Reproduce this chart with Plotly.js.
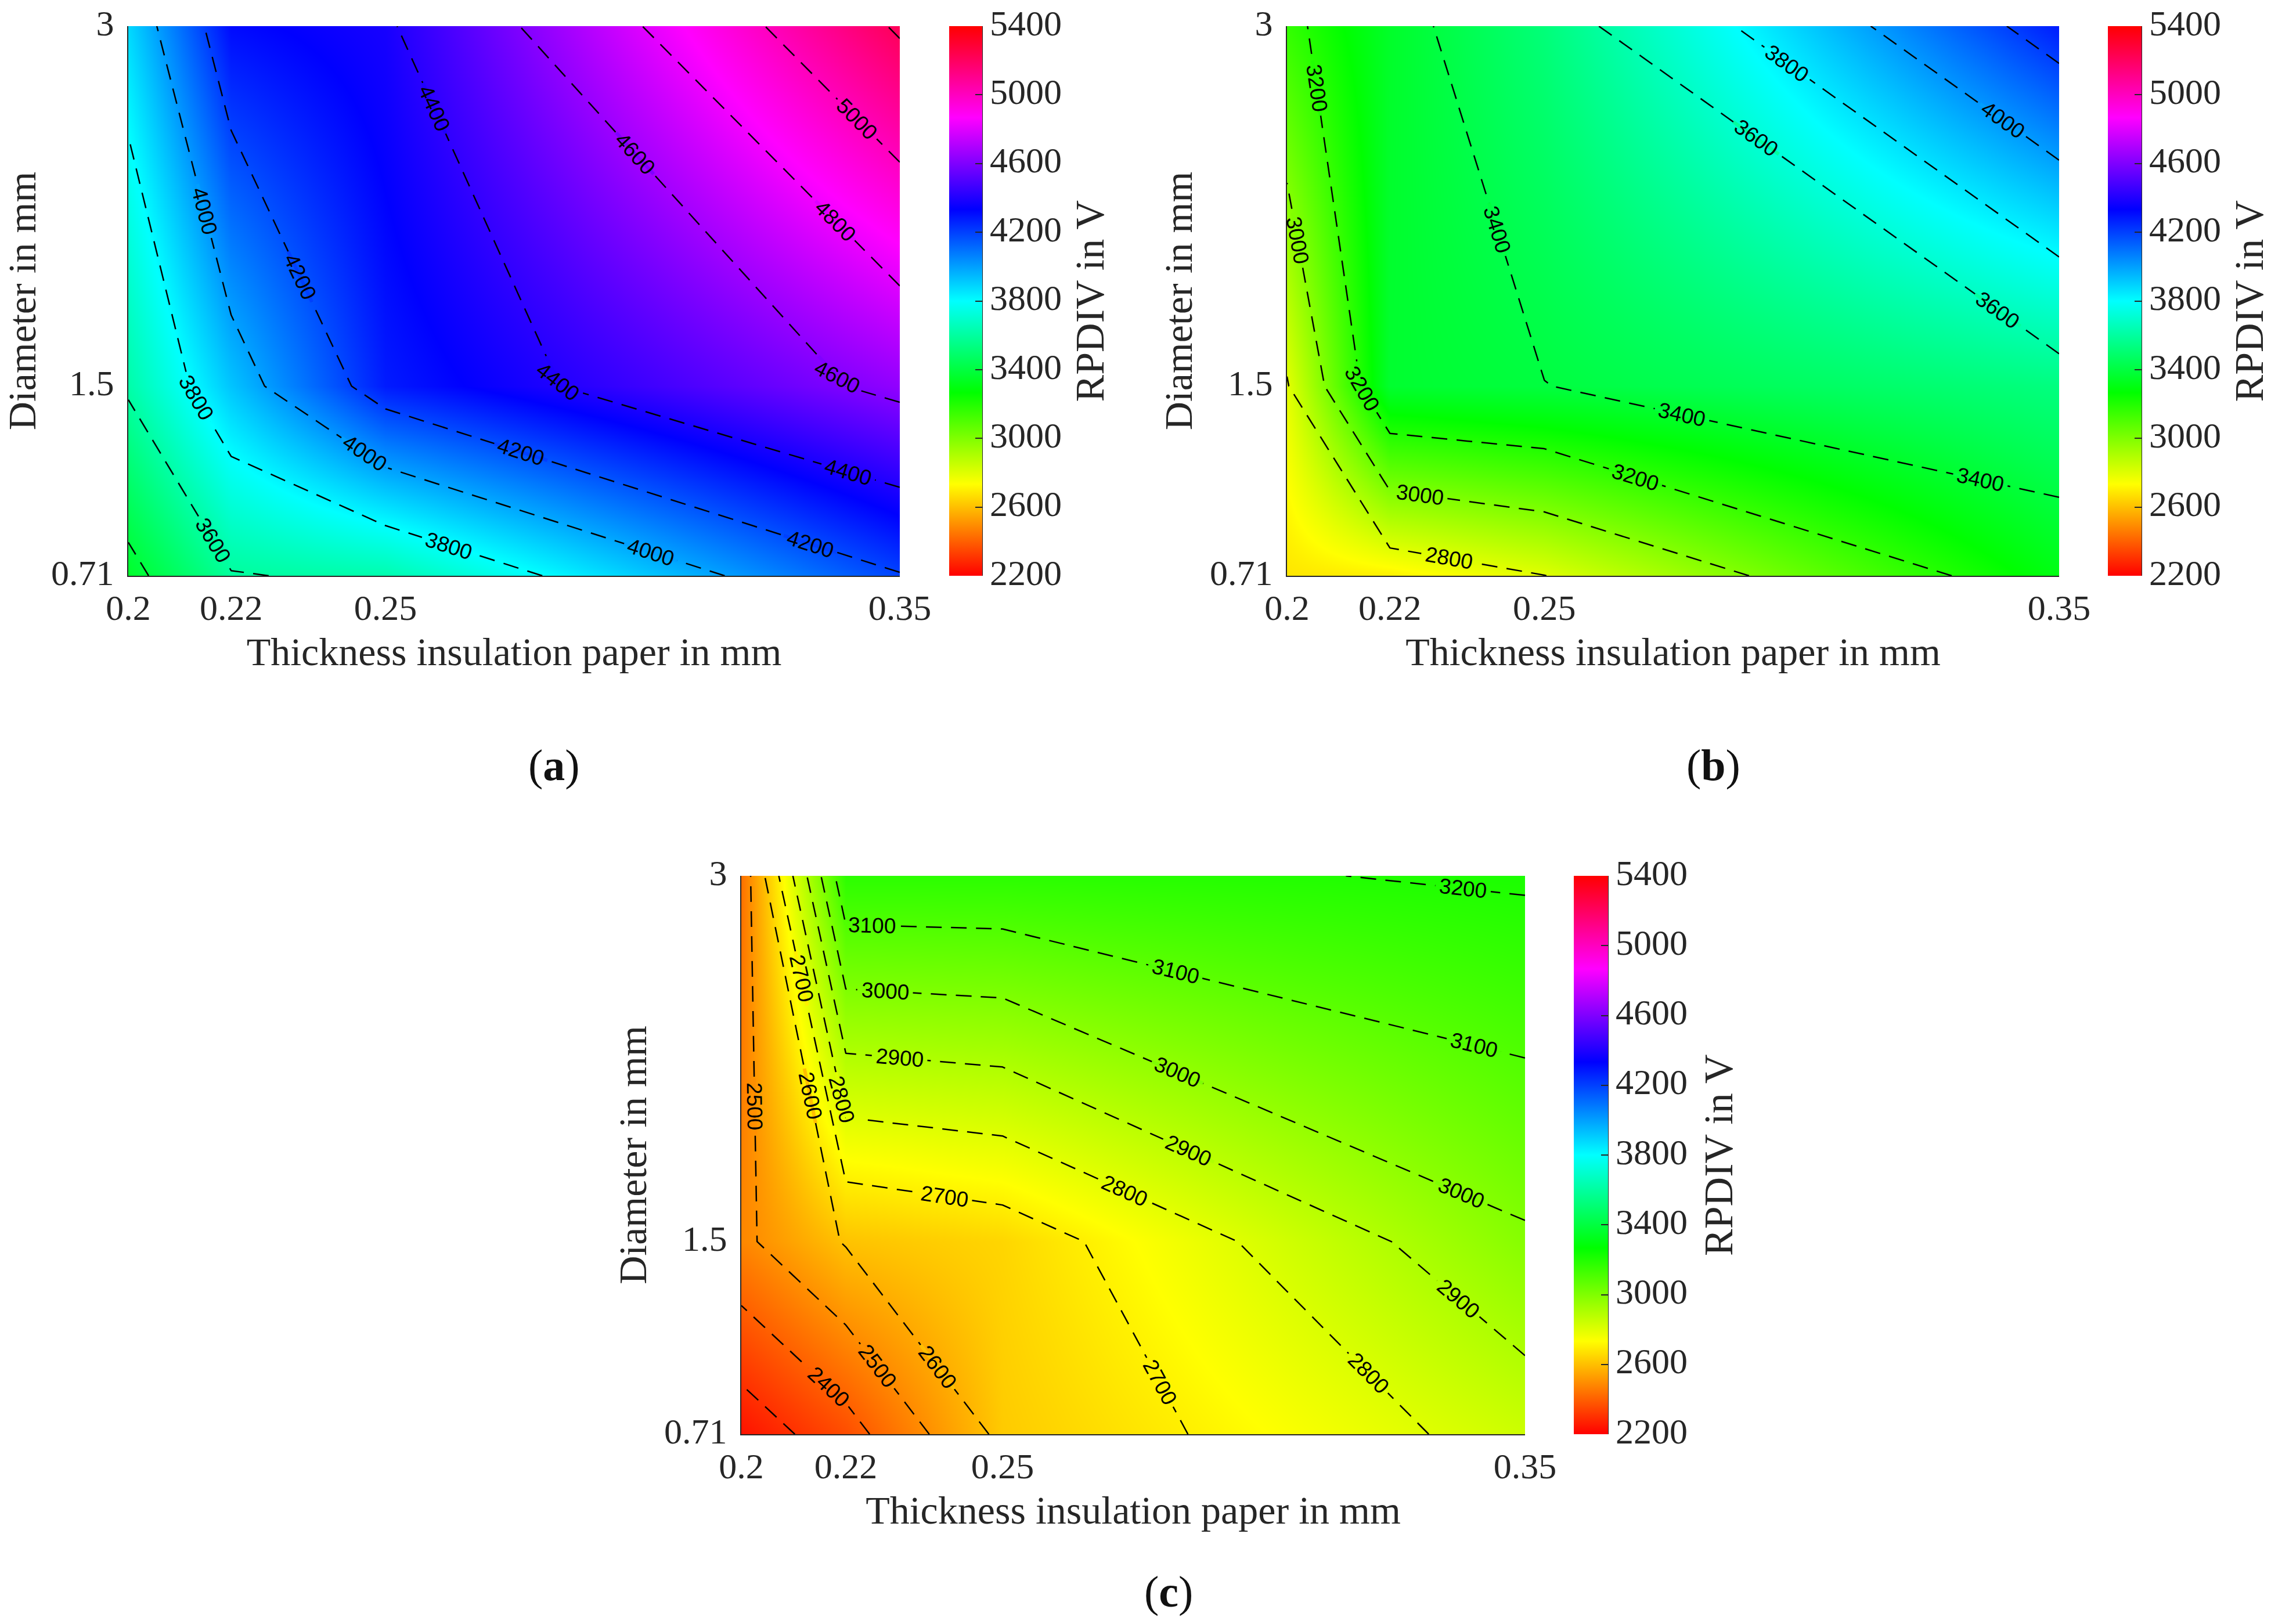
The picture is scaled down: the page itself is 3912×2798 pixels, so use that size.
<!DOCTYPE html>
<html>
<head>
<meta charset="utf-8">
<script src="https://cdn.plot.ly/plotly-3.0.1.min.js"></script>
<style>html,body{margin:0;padding:0;background:#fff}#chart{width:3912px;height:2798px}</style>
</head>
<body>
<div id="chart"></div>
<script>
const thickness = [0.2, 0.22, 0.25, 0.35];
const diameter = [0.71, 1.5, 3];
const xTickText = ['0.2', '0.22', '0.25', '0.35'];
const yTickText = ['0.71', '1.5', '3'];
const rpdivA = [[3353, 3591, 3628, 4192], [3619, 3923, 4278, 4638], [3880, 4313, 4381, 5220]];
const rpdivB = [[2680, 2703, 2798, 3306], [2790, 3365, 3398, 3533], [3162, 3353, 3520, 4277]];
const rpdivC = [[2237, 2360, 2623, 2840], [2481, 2607, 2647, 2987], [2434, 3176, 3177, 3212]];
const levelsA = {start: 3400, end: 5200, size: 200};
const levelsB = {start: 2800, end: 4200, size: 200};
const levelsC = {start: 2300, end: 3200, size: 100};
const hsvStops = [[255, 0, 0], [255, 255, 0], [0, 255, 0], [0, 255, 255], [0, 0, 255], [255, 0, 255], [255, 0, 0]];
const xTitle = 'Thickness insulation paper in mm';
const yTitle = 'Diameter in mm';
const barTitle = 'RPDIV in V';
// contour label: level, approximate page position (in the 1568-wide view), clockwise angle
const labelsA = [[4000,140,146,78],[4200,205,192,65],[3800,135,275,60],[3600,147,373,60],[4400,297,76,66],[4400,386,263,38],
  [4000,251,314,35],[4200,359,314,17],[3800,309,379,19],[4600,435,109,47],[4000,449,382,17],[4200,559,377,17],
  [4400,585,328,16],[4600,575,263,27],[4800,575,154,45],[5000,590,84,44]];
const labelsB = [[3200,908,61,82],[3000,896,166,79],[3400,1032,159,73],[3200,941,268,60],[3000,980,344,5],[2800,1000,387,10],
  [3400,1161,288,12],[3200,1129,330,16],[3400,1367,333,12],[3600,1212,96,35],[3600,1378,216,35],[3800,1233,45,35],[4000,1382,84,35]];
const labelsC = [[3100,602,640,1],[3000,611,686,2],[2900,621,732,3],[2700,552,676,78],[2600,558,757,78],[2500,521,764,89],
  [2800,582,759,75],[2700,652,827,5],[2800,776,823,25],[2700,800,955,61],[2400,571,959,45],[2500,605,944,48],[2600,646,945,52],
  [3200,1010,615,6],[3100,811,673,14],[3100,1017,724,14],[3000,812,743,24],[3000,1008,826,24],[2900,820,796,25],[2900,1005,899,38],[2800,944,949,45]];

const W = 3912, H = 2798, VIEW = W / 1568, ZMIN = 2200, ZMAX = 5400, GAP = 48;
const SERIF = '"Liberation Serif", serif';
const INK = '#262626';
const hsvScale = hsvStops.map((c, i) => [i / (hsvStops.length - 1), 'rgb(' + c.join(',') + ')']);
function levelColor(v) {
  const t = (v - ZMIN) / (ZMAX - ZMIN) * (hsvStops.length - 1);
  const i = Math.min(Math.floor(t), hsvStops.length - 2), f = t - i;
  return 'rgb(' + hsvStops[i].map((c, k) => Math.round(c + (hsvStops[i + 1][k] - c) * f)).join(',') + ')';
}
// Straight pieces of one contour level, one per grid cell, in page pixels.
function levelSegments(p, lev) {
  const X = v => p.l + (v - 0.2) / 0.15 * (p.r - p.l);
  const Y = v => p.b - (v - 0.71) / 2.29 * (p.b - p.t);
  const cross = (a, b, za, zb) => {
    if ((za - lev) * (zb - lev) >= 0) return null;
    const f = (lev - za) / (zb - za);
    return [a[0] + (b[0] - a[0]) * f, a[1] + (b[1] - a[1]) * f];
  };
  const segs = [];
  for (let j = 0; j < diameter.length - 1; j++) for (let i = 0; i < thickness.length - 1; i++) {
    const A = [X(thickness[i]), Y(diameter[j])], B = [X(thickness[i + 1]), Y(diameter[j])];
    const C = [X(thickness[i + 1]), Y(diameter[j + 1])], D = [X(thickness[i]), Y(diameter[j + 1])];
    const zA = p.z[j][i], zB = p.z[j][i + 1], zC = p.z[j + 1][i + 1], zD = p.z[j + 1][i];
    const pts = [cross(A, B, zA, zB), cross(B, C, zB, zC), cross(C, D, zC, zD), cross(D, A, zD, zA)].filter(Boolean);
    if (pts.length === 2) segs.push(pts);
  }
  return segs;
}
function nearestOn(seg, q) {
  const [a, b] = seg, dx = b[0] - a[0], dy = b[1] - a[1];
  const t = Math.max(0, Math.min(1, ((q[0] - a[0]) * dx + (q[1] - a[1]) * dy) / (dx * dx + dy * dy)));
  return [a[0] + dx * t, a[1] + dy * t];
}
function clipToCircle(seg, c, r) {
  const [a, b] = seg, dx = b[0] - a[0], dy = b[1] - a[1], fx = a[0] - c[0], fy = a[1] - c[1];
  const A = dx * dx + dy * dy, B = 2 * (fx * dx + fy * dy), C = fx * fx + fy * fy - r * r, D = B * B - 4 * A * C;
  if (D <= 0) return null;
  const t0 = Math.max(0, (-B - Math.sqrt(D)) / (2 * A)), t1 = Math.min(1, (-B + Math.sqrt(D)) / (2 * A));
  if (t1 <= t0) return null;
  return [[a[0] + dx * t0, a[1] + dy * t0], [a[0] + dx * t1, a[1] + dy * t1]];
}
const panels = [
  {z: rpdivA, lv: levelsA, labels: labelsA, l: 221, r: 1550, t: 45, b: 992, cl: 1635, cr: 1692, cap: 'a', capX: 954, capY: 1318, barTx: 1877, s: ''},
  {z: rpdivB, lv: levelsB, labels: labelsB, l: 2217, r: 3547, t: 45, b: 992, cl: 3631, cr: 3689, cap: 'b', capX: 2951, capY: 1318, barTx: 3874, s: '2'},
  {z: rpdivC, lv: levelsC, labels: labelsC, l: 1277, r: 2627, t: 1509, b: 2471, cl: 2711, cr: 2770, cap: 'c', capX: 2013, capY: 2742, barTx: 2960, s: '3'}
];
const data = [], gapTraces = [], annotations = [], shapes = [];
const layout = {
  width: W, height: H, autosize: false, showlegend: false,
  margin: {l: 0, r: 0, t: 0, b: 0, pad: 0},
  paper_bgcolor: '#fff', plot_bgcolor: '#fff',
  font: {family: SERIF, color: INK, size: 62}
};
panels.forEach(p => {
  const xa = 'x' + p.s, ya = 'y' + p.s;
  data.push({
    type: 'heatmap', x: thickness, y: diameter, z: p.z, xaxis: xa, yaxis: ya,
    zsmooth: 'best', zmin: ZMIN, zmax: ZMAX, colorscale: hsvScale, hoverinfo: 'skip',
    colorbar: {
      x: p.cl / W, xanchor: 'left', xpad: 0, ypad: 0,
      y: 1 - p.b / H, yanchor: 'bottom',
      thicknessmode: 'pixels', thickness: p.cr - p.cl,
      lenmode: 'pixels', len: p.b - p.t,
      tick0: ZMIN, dtick: 400, ticks: 'inside', ticklen: 12, tickwidth: 2, tickcolor: INK,
      outlinewidth: 0, borderwidth: 0,
      tickfont: {family: SERIF, size: 62, color: INK}
    }
  });
  data.push({
    type: 'contour', x: thickness, y: diameter, z: p.z, xaxis: xa, yaxis: ya,
    showscale: false, hoverinfo: 'skip',
    contours: {coloring: 'none', showlabels: false, start: p.lv.start, end: p.lv.end, size: p.lv.size},
    line: {color: '#000', width: 2.5, dash: '27px,16px', smoothing: 0}
  });
  const common = {showgrid: false, zeroline: false, showline: true, linecolor: INK, linewidth: 2,
    ticks: 'inside', ticklen: 13, tickwidth: 2, tickcolor: INK, layer: 'below traces',
    tickfont: {family: SERIF, size: 62, color: INK}, tickmode: 'array', fixedrange: true};
  layout['xaxis' + p.s] = Object.assign({}, common, {
    domain: [p.l / W, p.r / W], range: [0.2, 0.35], anchor: ya,
    tickvals: thickness, ticktext: xTickText, ticklabelstandoff: 0,
    title: {text: xTitle, font: {family: SERIF, size: 68, color: INK}, standoff: 18}
  });
  layout['yaxis' + p.s] = Object.assign({}, common, {
    domain: [1 - p.b / H, 1 - p.t / H], range: [0.71, 3], anchor: xa,
    tickvals: diameter, ticktext: yTickText, ticklabelstandoff: 10,
    title: {text: yTitle, font: {family: SERIF, size: 68, color: INK}, standoff: 8}
  });
  annotations.push({xref: 'paper', yref: 'paper', x: p.barTx / W, y: 1 - (p.t + p.b) / 2 / H,
    text: barTitle, textangle: -90, showarrow: false, xanchor: 'center', yanchor: 'middle',
    font: {family: SERIF, size: 70, color: INK}});
  annotations.push({xref: 'paper', yref: 'paper', x: p.capX / W, y: 1 - p.capY / H,
    text: '(<b>' + p.cap + '</b>)', showarrow: false, xanchor: 'center', yanchor: 'middle',
    font: {family: SERIF, size: 76, color: '#111'}});
  shapes.push({type: 'line', xref: 'paper', yref: 'paper', x0: p.cr / W, x1: p.cr / W, y0: 1 - p.b / H, y1: 1 - p.t / H,
    line: {color: INK, width: 2}});
  // Contour labels sit on the contour computed from the grid; the line is opened by a short overdraw in the level's own colour.
  const toX = px => 0.2 + (px - p.l) / (p.r - p.l) * 0.15;
  const toY = py => 0.71 + (p.b - py) / (p.b - p.t) * 2.29;
  p.labels.forEach(([lev, vx, vy, ang]) => {
    const q = [vx * VIEW, vy * VIEW], segs = levelSegments(p, lev);
    let best = null, bestD = 1e18, bestSeg = null;
    segs.forEach(s => {
      const n = nearestOn(s, q), d = Math.hypot(n[0] - q[0], n[1] - q[1]);
      if (d < bestD) { bestD = d; best = n; bestSeg = s; }
    });
    let angle = ang;
    const xs = [], ys = [];
    let longPieces = 0;
    segs.forEach(s => {
      const c = clipToCircle(s, best, GAP);
      if (c) {
        xs.push(toX(c[0][0]), toX(c[1][0]), null);
        ys.push(toY(c[0][1]), toY(c[1][1]), null);
        if (Math.hypot(c[1][0] - c[0][0], c[1][1] - c[0][1]) > 10) longPieces++;
      }
    });
    if (longPieces <= 1) {
      let a = Math.atan2(bestSeg[1][1] - bestSeg[0][1], bestSeg[1][0] - bestSeg[0][0]) * 180 / Math.PI;
      if (a > 90) a -= 180;
      if (a <= -90) a += 180;
      angle = a;
    }
    gapTraces.push({type: 'scatter', mode: 'lines', x: xs, y: ys, xaxis: xa, yaxis: ya, hoverinfo: 'skip',
      showlegend: false, connectgaps: false, line: {color: levelColor(lev), width: 6}});
    annotations.push({xref: 'paper', yref: 'paper', x: best[0] / W, y: 1 - best[1] / H, showarrow: false,
      xanchor: 'center', yanchor: 'middle', textangle: angle, text: String(lev), borderpad: 0,
      font: {family: '"Liberation Sans", sans-serif', size: 37, color: '#000'}});
  });
});
layout.annotations = annotations;
layout.shapes = shapes;
Plotly.newPlot('chart', data.concat(gapTraces), layout, {displayModeBar: false, staticPlot: true}).then(() => {
  document.querySelectorAll('g[class*="tick"] text').forEach(t => {
    const g = t.closest('g[class*="tick"]');
    const cls = (g && g.getAttribute('class')) || '';
    if (/(^|\s)y[^\s]*tick/.test(cls) && t.hasAttribute('y')) {
      t.setAttribute('y', parseFloat(t.getAttribute('y')) - 6);
    }
  });
});
</script>
</body>
</html>
